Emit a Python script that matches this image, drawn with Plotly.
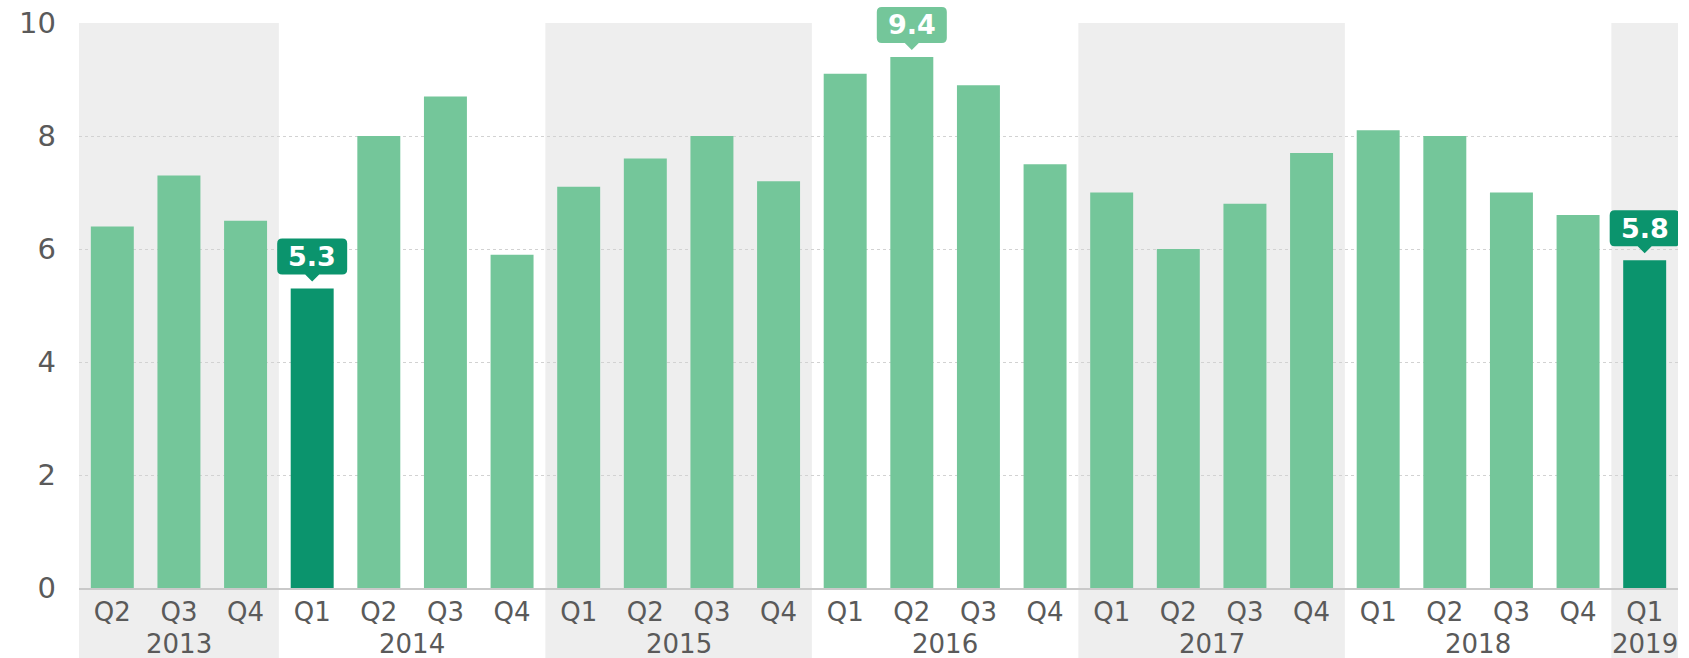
import plotly.graph_objects as go

# Quarterly series
years = ["2013"] * 3 + ["2014"] * 4 + ["2015"] * 4 + ["2016"] * 4 + ["2017"] * 4 + ["2018"] * 4 + ["2019"]
quarters = ["Q2", "Q3", "Q4"] + ["Q1", "Q2", "Q3", "Q4"] * 5 + ["Q1"]
values = [6.4, 7.3, 6.5,
          5.3, 8.0, 8.7, 5.9,
          7.1, 7.6, 8.0, 7.2,
          9.1, 9.4, 8.9, 7.5,
          7.0, 6.0, 6.8, 7.7,
          8.1, 8.0, 7.0, 6.6,
          5.8]

# Bars drawn in the darker shade, and bars that carry a value callout
dark_bars = [("2014", "Q1"), ("2019", "Q1")]
callout_bars = [("2014", "Q1"), ("2016", "Q2"), ("2019", "Q1")]

y_ticks = [0, 2, 4, 6, 8, 10]

LIGHT = "#74c69a"
DARK = "#0b946d"
BAND = "#eeeeee"
TEXT = "#5a5a5a"
FONT = "DejaVu Sans"
Y_MAX = y_ticks[-1]

idx = list(range(len(values)))
keys = list(zip(years, quarters))
colors = [DARK if k in dark_bars else LIGHT for k in keys]

fig = go.Figure()
fig.add_trace(go.Bar(x=idx, y=values, marker=dict(color=colors, line=dict(width=0)),
                     hoverinfo="skip"))

# Alternating year bands and year labels
year_order = []
for y in years:
    if y not in year_order:
        year_order.append(y)
for n, yr in enumerate(year_order):
    members = [i for i, y in enumerate(years) if y == yr]
    if n % 2 == 0:
        fig.add_shape(type="rect", xref="x", yref="paper",
                      x0=members[0] - 0.5, x1=members[-1] + 0.5, y0=-0.3, y1=1,
                      fillcolor=BAND, line=dict(width=0), layer="below")
    fig.add_annotation(x=(members[0] + members[-1]) / 2, y=0, xref="x", yref="paper",
                       text=yr, showarrow=False, yanchor="middle", yshift=-56,
                       font=dict(family=FONT, size=26, color=TEXT))

# Value callouts: rounded box with a pointer above the bar
callout_path = ("M 0,7 L 7,14 L 30,14 Q 35,14 35,19 L 35,45 Q 35,50 30,50 "
                "L -30,50 Q -35,50 -35,45 L -35,19 Q -35,14 -30,14 L -7,14 Z")
for i, k in enumerate(keys):
    if k in callout_bars:
        fig.add_shape(type="path", xref="x", yref="paper",
                      xsizemode="pixel", ysizemode="pixel",
                      xanchor=i, yanchor=values[i] / Y_MAX,
                      path=callout_path, fillcolor=colors[i],
                      line=dict(width=0), layer="above")
        fig.add_annotation(x=i, y=values[i], xref="x", yref="y",
                           text=f"{values[i]:.1f}", showarrow=False,
                           yanchor="middle", yshift=32,
                           font=dict(family=FONT, size=27, color="white", weight="bold"))

fig.update_layout(
    width=1689, height=658,
    margin=dict(l=79, r=11, t=23, b=70, autoexpand=False),
    paper_bgcolor="white", plot_bgcolor="rgba(0,0,0,0)",
    bargap=0.355, showlegend=False,
    font=dict(family=FONT, size=26, color=TEXT),
)
fig.update_xaxes(range=[-0.5, len(values) - 0.5], tickmode="array",
                 tickvals=idx, ticktext=quarters, showgrid=False, zeroline=False,
                 showline=True, linecolor="#c9c9c9", linewidth=1.5,
                 ticks="", ticklabelstandoff=0, automargin=False,
                 tickfont=dict(family=FONT, size=26, color=TEXT))
fig.update_yaxes(range=[0, Y_MAX], tickmode="array", tickvals=y_ticks,
                 showgrid=True, gridcolor="#d2d2d2", griddash="dot", gridwidth=1,
                 zeroline=False, showline=False, ticks="", ticklabelstandoff=22,
                 automargin=False,
                 tickfont=dict(family=FONT, size=29, color=TEXT))

fig.write_html("out.html")
